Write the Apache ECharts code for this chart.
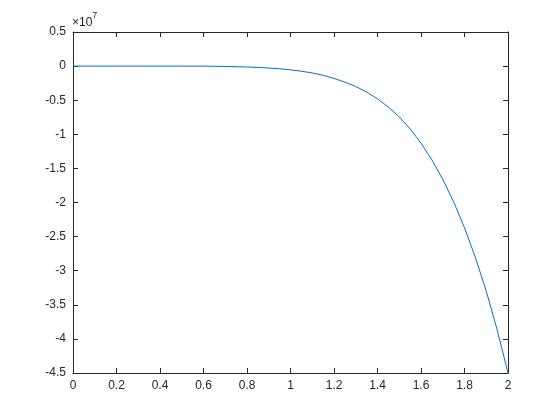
<!DOCTYPE html>
<html>
<head>
<meta charset="utf-8">
<script src="https://cdn.jsdelivr.net/npm/echarts@6/dist/echarts.min.js"></script>
<style>
  html, body { margin: 0; padding: 0; background: #fff; }
  #chart { width: 560px; height: 420px; }
</style>
</head>
<body>
<div id="chart"></div>
<script>
// x values and y values (y in units of 1e7, as the axis shows)
const xs = [0, 0.1, 0.2, 0.3, 0.4, 0.5, 0.6, 0.7, 0.8, 0.85, 0.9, 0.95,
  1.0, 1.05, 1.1, 1.15, 1.2, 1.25, 1.3, 1.35, 1.4, 1.45, 1.5, 1.55,
  1.6, 1.65, 1.7, 1.75, 1.8, 1.85, 1.9, 1.95, 2.0];
const ys = [0, 0, 0, 0, 0, 0, -0.001, -0.005, -0.013, -0.02, -0.028, -0.04,
  -0.055, -0.075, -0.10, -0.135, -0.18, -0.235, -0.30, -0.38, -0.48, -0.60, -0.745, -0.92,
  -1.13, -1.375, -1.66, -1.99, -2.37, -2.805, -3.30, -3.865, -4.5];

const axisColor = '#262626';
const font = 'Liberation Sans, Arial, sans-serif';

const chart = echarts.init(document.getElementById('chart'));

const baseAxis = {
  type: 'value',
  axisLine: { show: true, onZero: false, lineStyle: { color: axisColor, width: 1 } },
  axisTick: { show: true, inside: true, length: 5, lineStyle: { color: axisColor } },
  splitLine: { show: false }
};

const option = {
  animation: false,
  backgroundColor: '#fff',
  grid: { left: 73, right: 52, top: 32, bottom: 47 },
  xAxis: [
    Object.assign({}, baseAxis, {
      min: 0, max: 2, interval: 0.2, position: 'bottom',
      axisLabel: {
        color: axisColor, fontSize: 12, fontFamily: font, margin: 7,
        formatter: v => String(+v.toFixed(1))
      }
    }),
    Object.assign({}, baseAxis, {
      min: 0, max: 2, interval: 0.2, position: 'top',
      axisLabel: { show: false }
    })
  ],
  yAxis: [
    Object.assign({}, baseAxis, {
      min: -4.5, max: 0.5, interval: 0.5, position: 'left',
      axisLabel: {
        color: axisColor, fontSize: 12, fontFamily: font, margin: 7,
        formatter: v => String(+v.toFixed(1))
      }
    }),
    Object.assign({}, baseAxis, {
      min: -4.5, max: 0.5, interval: 0.5, position: 'right',
      axisLabel: { show: false }
    })
  ],
  graphic: [{
    type: 'text',
    left: 72,
    top: 11,
    style: {
      text: '{a|×10}{b|7}',
      rich: {
        a: { fontSize: 12, fontFamily: font, fill: axisColor, padding: [6, 0, 0, 0] },
        b: { fontSize: 9, fontFamily: font, fill: axisColor, verticalAlign: 'top' }
      }
    }
  }],
  series: [{
    type: 'line',
    data: xs.map((x, i) => [x, ys[i]]),
    showSymbol: false,
    lineStyle: { color: '#0072BD', width: 1 },
    clip: true
  }]
};

chart.setOption(option);
</script>
</body>
</html>
